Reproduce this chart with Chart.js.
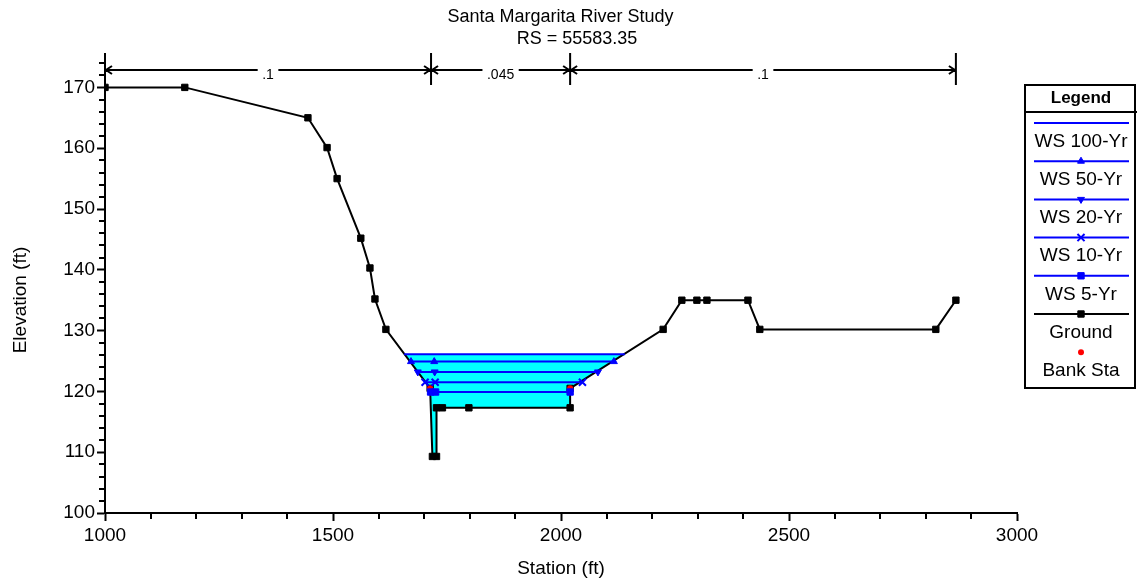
<!DOCTYPE html>
<html>
<head>
<meta charset="utf-8">
<title>Santa Margarita River Study</title>
<script src="https://cdn.jsdelivr.net/npm/chart.js@4.4.1/dist/chart.umd.min.js"></script>
<style>
  html, body { margin: 0; padding: 0; background: #fff; }
  #wrap { width: 1138px; height: 584px; }
</style>
</head>
<body>
<div id="wrap"><canvas id="xsChart" width="1138" height="584"></canvas></div>
<script>
// Ground profile, station / elevation in ft
const groundSta  = [1000, 1175, 1445, 1487, 1509, 1561, 1581, 1592, 1616, 1713, 1718, 1727, 1727, 1740, 1798, 2020, 2020, 2224, 2265, 2298, 2320, 2410, 2436, 2822, 2866];
const groundElev = [170, 170, 165, 160.1, 155, 145.2, 140.3, 135.2, 130.2, 120.5, 109.3, 109.3, 117.3, 117.3, 117.3, 117.3, 120.5, 130.2, 135, 135, 135, 135, 130.2, 130.2, 135];

// Bank stations
const bankSta  = [1713, 2020];
const bankElev = [120.5, 120.5];

// Water surfaces (stations where the profile is drawn, one elevation each)
const ws100Sta = [1656, 2140];        const ws100Elev = 126.1;
const ws50Sta  = [1671, 1722, 2116];  const ws50Elev  = 124.9;
const ws20Sta  = [1686, 1723, 2081];  const ws20Elev  = 123.2;
const ws10Sta  = [1702, 1724, 2047];  const ws10Elev  = 121.5;
const ws5Sta   = [1714, 1725, 2020];  const ws5Elev   = 119.9;

// Manning's n breaks along the top
const nStations = [1000, 1715, 2020, 2866];
const nValues   = ['.1', '.045', '.1'];

const xTicks = [1000, 1500, 2000, 2500, 3000];
const yTicks = [100, 110, 120, 130, 140, 150, 160, 170];

const FONT = '"Liberation Sans", Arial, sans-serif';
Chart.defaults.font.family = FONT;
Chart.defaults.color = '#000';

const toPoints = (sta, elev) => sta.map((s, i) => ({ x: s, y: Array.isArray(elev) ? elev[i] : elev }));

const blue = '#0000ff';
function wsSet(label, sta, elev, style, rot, r, bw) {
  return {
    label: label,
    data: toPoints(sta, elev),
    borderColor: blue,
    backgroundColor: blue,
    borderWidth: 2,
    pointStyle: style,
    pointRotation: rot,
    pointRadius: r,
    pointBorderWidth: bw,
    pointBackgroundColor: blue,
    pointBorderColor: blue,
    fill: false,
    order: 0
  };
}

// wetted area: top water surface closed over the ground between its ends
const wetted = [{ x: ws100Sta[0], y: ws100Elev }]
  .concat(toPoints(groundSta, groundElev).filter(p => p.x > ws100Sta[0] && p.x < ws100Sta[ws100Sta.length - 1]))
  .concat([{ x: ws100Sta[ws100Sta.length - 1], y: ws100Elev }]);

const datasets = [
  wsSet('WS 100-Yr', ws100Sta, ws100Elev, false, 0, 0, 0),
  wsSet('WS 50-Yr', ws50Sta, ws50Elev, 'triangle', 0, 4, 1),
  wsSet('WS 20-Yr', ws20Sta, ws20Elev, 'triangle', 180, 4, 1),
  wsSet('WS 10-Yr', ws10Sta, ws10Elev, 'crossRot', 0, 5, 2),
  wsSet('WS 5-Yr', ws5Sta, ws5Elev, 'rect', 0, 4.5, 1),
  {
    label: 'Ground',
    data: toPoints(groundSta, groundElev),
    borderColor: '#000',
    backgroundColor: '#000',
    borderWidth: 2,
    pointStyle: 'rect',
    pointRadius: 4.5,
    pointBorderWidth: 1,
    pointBackgroundColor: '#000',
    pointBorderColor: '#000',
    fill: false,
    order: 2
  },
  {
    label: 'Bank Sta',
    data: toPoints(bankSta, bankElev),
    showLine: false,
    pointStyle: 'circle',
    pointRadius: 3,
    pointBorderWidth: 0,
    pointBackgroundColor: '#ff0000',
    pointBorderColor: '#ff0000',
    order: 1
  },
  {
    label: 'water',
    data: wetted,
    borderWidth: 0,
    borderColor: 'rgba(0,0,0,0)',
    backgroundColor: '#00ffff',
    pointRadius: 0,
    fill: 'shape',
    order: 3
  }
];

function markerFor(ds) {
  return {
    pointStyle: ds.pointStyle,
    rotation: ds.pointRotation || 0,
    radius: ds.pointRadius,
    borderWidth: ds.pointBorderWidth
  };
}

const overlay = {
  id: 'overlay',
  afterDraw(chart) {
    const ctx = chart.ctx;
    const xs = chart.scales.x, ys = chart.scales.y;
    const area = chart.chartArea;
    ctx.save();

    // minor ticks
    ctx.strokeStyle = '#000';
    ctx.lineWidth = 2;
    ctx.beginPath();
    for (let v = xs.min + 100; v < xs.max; v += 100) {
      if (v % 500 === 0) continue;
      const px = Math.round(xs.getPixelForValue(v));
      ctx.moveTo(px, area.bottom);
      ctx.lineTo(px, area.bottom + 6);
    }
    for (let v = ys.min + 2; v < ys.max; v += 2) {
      if (v % 10 === 0) continue;
      const py = Math.round(ys.getPixelForValue(v));
      ctx.moveTo(area.left - 6, py);
      ctx.lineTo(area.left, py);
    }
    ctx.stroke();

    // titles
    ctx.fillStyle = '#000';
    ctx.textAlign = 'center';
    ctx.textBaseline = 'middle';
    ctx.font = '18px ' + FONT;
    ctx.fillText('Santa Margarita River Study', 560.5, 17);
    ctx.fillText('RS = 55583.35', 577, 39);

    ctx.save();
    ctx.translate(21, 300);
    ctx.rotate(-Math.PI / 2);
    ctx.font = '19px ' + FONT;
    ctx.fillText('Elevation (ft)', 0, 0);
    ctx.restore();

    // Manning's n markers
    const ly = Math.round(ys.getPixelForValue(172.8));
    ctx.lineWidth = 2;
    ctx.font = '14px ' + FONT;
    const px = nStations.map(s => xs.getPixelForValue(s));
    ctx.beginPath();
    px.forEach(p => { ctx.moveTo(p, ly - 17); ctx.lineTo(p, ly + 15); });
    for (let i = 0; i < nValues.length; i++) {
      const a = px[i], b = px[i + 1];
      ctx.moveTo(a, ly); ctx.lineTo(b, ly);
      ctx.moveTo(a + 7, ly - 4); ctx.lineTo(a + 1, ly); ctx.lineTo(a + 7, ly + 4);
      ctx.moveTo(b - 7, ly - 4); ctx.lineTo(b - 1, ly); ctx.lineTo(b - 7, ly + 4);
    }
    ctx.stroke();
    for (let i = 0; i < nValues.length; i++) {
      const mid = (px[i] + px[i + 1]) / 2;
      const w = ctx.measureText(nValues[i]).width + 9;
      ctx.fillStyle = '#fff';
      ctx.fillRect(mid - w / 2, ly - 3, w, 6);
      ctx.fillStyle = '#000';
      ctx.fillText(nValues[i], mid, ly + 5);
    }

    // legend box
    const L = 1025, T = 85, R = 1135, B = 388, cx = 1081;
    ctx.lineWidth = 2;
    ctx.strokeStyle = '#000';
    ctx.strokeRect(L, T, R - L, B - T);
    ctx.beginPath();
    ctx.moveTo(L, 112); ctx.lineTo(1137, 112);
    ctx.stroke();
    ctx.font = 'bold 17px ' + FONT;
    ctx.fillText('Legend', cx, 98.5);
    ctx.font = '19px ' + FONT;
    const items = chart.data.datasets.filter(d => d.label !== 'water');
    items.forEach((ds, i) => {
      const yl = 123 + i * 38.2;
      const col = ds.pointBackgroundColor || ds.borderColor;
      if (ds.showLine !== false) {
        ctx.strokeStyle = ds.borderColor;
        ctx.lineWidth = 2;
        ctx.beginPath();
        ctx.moveTo(1034, yl); ctx.lineTo(1129, yl);
        ctx.stroke();
      }
      if (ds.pointStyle && ds.pointRadius > 0 && Chart.helpers && Chart.helpers.drawPoint) {
        ctx.fillStyle = col;
        ctx.strokeStyle = ds.pointBorderColor || col;
        ctx.lineWidth = ds.pointBorderWidth;
        const m = markerFor(ds);
        if (!m.borderWidth) m.borderWidth = 0;
        Chart.helpers.drawPoint(ctx, m, cx, yl);
      }
      ctx.fillStyle = '#000';
      ctx.fillText(ds.label, cx, yl + 18.5);
    });
    ctx.restore();
  }
};

const ctx = document.getElementById('xsChart').getContext('2d');
new Chart(ctx, {
  type: 'line',
  data: { datasets: datasets },
  options: {
    responsive: false,
    animation: false,
    events: [],
    layout: { padding: { top: 57, right: 121, bottom: 0, left: 0 } },
    elements: { line: { tension: 0 } },
    plugins: {
      legend: { display: false },
      tooltip: { enabled: false },
      title: { display: false }
    },
    scales: {
      x: {
        type: 'linear',
        min: 1000,
        max: 3000,
        afterBuildTicks: s => { s.ticks = xTicks.map(v => ({ value: v })); },
        afterFit: s => { s.height = 71; },
        grid: { drawOnChartArea: false, drawTicks: true, tickLength: 8, tickWidth: 2, tickColor: '#000' },
        border: { display: true, color: '#000', width: 2 },
        ticks: { color: '#000', font: { size: 19 }, padding: 3, maxRotation: 0, autoSkip: false, callback: v => String(v) },
        title: { display: true, text: 'Station (ft)', color: '#000', font: { size: 19 }, padding: { top: 0, bottom: 4 } }
      },
      y: {
        type: 'linear',
        min: 100,
        max: 175,
        afterBuildTicks: s => { s.ticks = yTicks.map(v => ({ value: v })); },
        afterFit: s => { s.width = 105; },
        grid: { drawOnChartArea: false, drawTicks: true, tickLength: 8, tickWidth: 2, tickColor: '#000' },
        border: { display: true, color: '#000', width: 2 },
        ticks: { color: '#000', font: { size: 19 }, padding: 2, autoSkip: false, callback: v => String(v) },
        title: { display: false }
      }
    }
  },
  plugins: [overlay]
});
</script>
</body>
</html>
